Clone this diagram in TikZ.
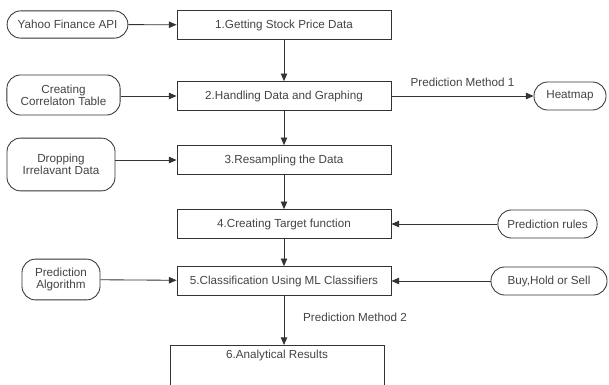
\documentclass[tikz,border=0pt]{standalone}
\usepackage{fontspec}
\setmainfont{Liberation Sans}
\usepackage{tikz}
\usetikzlibrary{positioning, arrows.meta, calc}
\definecolor{linegray}{HTML}{333333}
\definecolor{textgray}{HTML}{444444}

\begin{document}
\begin{tikzpicture}[x=0.025cm, y=-0.025cm, font=\fontsize{8.3}{8.6}\selectfont,
  >={Triangle[length=1.9mm, width=1.6mm]}]

\useasboundingbox (0,0) rectangle (609,385);
\clip (0,0) rectangle (609,385);

\tikzset{
  stepbox/.style={draw=linegray, line width=0.6pt, minimum width=5.35cm,
                  minimum height=0.72cm, text=textgray, fill=white},
  srcbox/.style={draw=linegray, line width=0.6pt, rounded corners=0.34cm,
                 align=center, text=textgray, inner sep=0pt, fill=white},
  flow/.style={->, draw=linegray, line width=0.6pt}
}

% main steps
\node[stepbox] (get)   at (284,25)  {1.Getting Stock Price Data};
\node[stepbox] (hand)  at (284,96)  {2.Handling Data and Graphing};
\node[stepbox] (resam) at (284,160) {3.Resampling the Data};
\node[stepbox] (targ)  at (284,224) {4.Creating Target function};
\node[stepbox] (class) at (284,281) {5.Classification Using ML Classifiers};
\node[stepbox, anchor=north, minimum height=0pt, inner ysep=0pt,
      text height=0.33cm, text depth=1.2cm] (res) at (277,345) {6.Analytical Results};

% inputs on the left
\node[srcbox, minimum width=3.02cm, minimum height=0.68cm] (yahoo) at (67.5,24.5) {Yahoo Finance API};
\node[srcbox, minimum width=2.83cm, minimum height=1.0cm]  (corr)  at (63.5,95)   {Creating\\Correlaton Table};
\node[srcbox, minimum width=2.7cm,  minimum height=1.32cm] (drop)  at (61,164.5)  {Dropping\\Irrelavant Data};
\node[srcbox, minimum width=1.95cm, minimum height=1.02cm] (algo)  at (61,279.5)  {Prediction\\Algorithm};

% right side
\node[srcbox, minimum width=1.8cm,  minimum height=0.7cm] (heat)  at (570,96)    {Heatmap};
\node[srcbox, minimum width=2.48cm, minimum height=0.7cm] (rules) at (547.5,224) {Prediction rules};
\node[srcbox, minimum width=2.9cm,  minimum height=0.7cm] (buy)   at (549,281)   {Buy,Hold or Sell};

% connectors
\draw[flow] (yahoo) -- (get);
\draw[flow] (corr.east |- hand) -- (hand);
\draw[flow] (drop.east |- resam) -- (resam);
\draw[flow] (algo) -- (class);
\draw[flow] (rules) -- (targ);
\draw[flow] (buy) -- (class);

\draw[flow] (get) -- (hand);
\draw[flow] (hand) -- (resam);
\draw[flow] (resam) -- (targ);
\draw[flow] (targ) -- (class);
\draw[flow] (class.south) -- (class.south |- res.north);

\draw[flow] (hand) -- node[above=3pt, text=textgray] {Prediction Method 1} (heat);
\node[text=textgray] (pm2) at (355,317) {Prediction Method 2};

\end{tikzpicture}
\end{document}
